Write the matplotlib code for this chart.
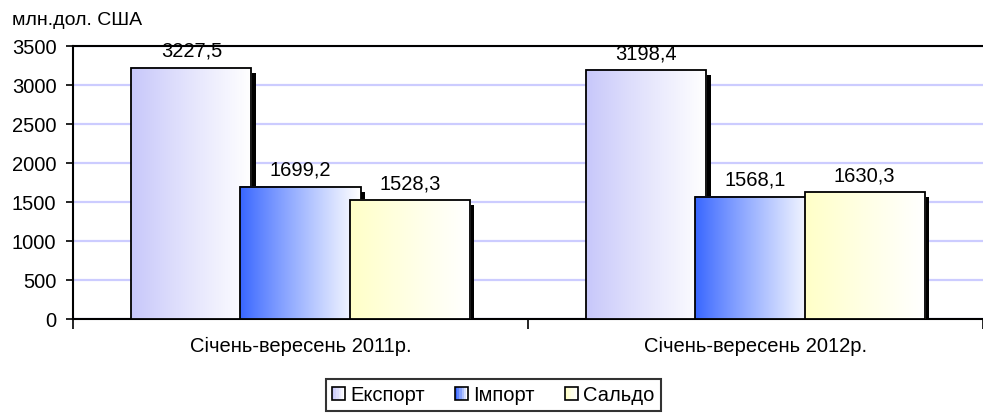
import matplotlib
matplotlib.use("Agg")
import matplotlib.pyplot as plt
import numpy as np
from matplotlib.patches import Rectangle
from matplotlib.transforms import offset_copy
from matplotlib.legend_handler import HandlerBase

plt.rcParams['font.family'] = ['Liberation Sans', 'DejaVu Sans']

# data
periods = ['Січень-вересень 2011р.', 'Січень-вересень 2012р.']
series = ['Експорт', 'Імпорт', 'Сальдо']
export_vals = [3227.5, 3198.4]
import_vals = [1699.2, 1568.1]
saldo_vals = [1528.3, 1630.3]
labels_vals = [['3227,5', '3198,4'], ['1699,2', '1568,1'], ['1528,3', '1630,3']]
yticks = [0, 500, 1000, 1500, 2000, 2500, 3000, 3500]

# left-side colour of each gradient (fades to white on the right)
start_cols = [(0.78, 0.78, 0.98), (0.22, 0.40, 1.0), (1.0, 1.0, 0.78)]

FS = 14.5


def gradient(col, n=64):
    """horizontal gradient from col to white"""
    t = np.linspace(0, 1, n) ** 0.9
    c = np.array(col)
    row = c[None, :] * (1 - t[:, None]) + np.ones(3)[None, :] * t[:, None]
    return row[None, :, :]


class GradHandler(HandlerBase):
    def __init__(self, col):
        super().__init__()
        self.col = col

    def create_artists(self, legend, orig_handle, xdescent, ydescent, width, height, fontsize, trans):
        s = height * 1.0
        x0 = -xdescent + width - s
        y0 = -ydescent
        arts = []
        n = 6
        for i in range(n):
            f = i / (n - 1)
            c = tuple(np.array(self.col) * (1 - f) + f)
            r = Rectangle((x0 + i * s / n, y0), s / n, s, facecolor=c, edgecolor='none', transform=trans)
            arts.append(r)
        arts.append(Rectangle((x0, y0), s, s, facecolor='none', edgecolor='black', lw=1.2, transform=trans))
        return arts


fig = plt.figure(figsize=(9.83, 4.18), dpi=100)
ax = fig.add_axes([0.0743, 0.2368, 0.9257, 0.652])

x = np.arange(len(periods))
step = 0.24
width = 0.264
shadow_tr = offset_copy(ax.transData, fig=fig, x=4.5, y=-5, units='dots')

all_vals = [export_vals, import_vals, saldo_vals]
for k, vals in enumerate(all_vals):
    z = 3 + k
    pos = x + (k - 1) * step
    # shadow
    ax.bar(pos, vals, width=width, color='black', transform=shadow_tr, zorder=z)
    bars = ax.bar(pos, vals, width=width, facecolor='none', edgecolor='black', lw=1.3, zorder=z + 0.2)
    for b, lab in zip(bars, labels_vals[k]):
        bx, by = b.get_x(), b.get_y()
        bw, bh = b.get_width(), b.get_height()
        ax.imshow(gradient(start_cols[k]), extent=[bx, bx + bw, by, by + bh], aspect='auto',
                  interpolation='bilinear', zorder=z + 0.1)
        ax.annotate(lab, (bx + bw / 2, by + bh), xytext=(0, 5), textcoords='offset points',
                    ha='center', va='bottom', fontsize=FS, zorder=10)

ax.set_xlim(-0.5, 1.5)
ax.set_ylim(0, 3500)
ax.set_yticks(yticks)
ax.tick_params(axis='y', labelsize=FS, length=5, width=1.2, direction='out', pad=7)
ax.set_xticks([-0.5, 0.5, 1.5])
ax.set_xticklabels([])
ax.set_xticks(x, minor=True)
ax.set_xticklabels(periods, minor=True)
ax.tick_params(axis='x', which='major', length=7, width=1.2, direction='out')
ax.tick_params(axis='x', which='minor', length=0, labelsize=FS, pad=13)

ax.yaxis.grid(True, color=(0.80, 0.80, 1.0), lw=1.6)
ax.set_axisbelow(True)
for side in ['left', 'bottom', 'top']:
    ax.spines[side].set_linewidth(1.5)
ax.spines['right'].set_visible(False)

fig.text(0.012, 0.952, 'млн.дол. США', fontsize=14, ha='left', va='center')

handles = [Rectangle((0, 0), 1, 1) for _ in series]
leg = fig.legend(handles, series, loc='center', bbox_to_anchor=(0.502, 0.055), ncol=3,
                 handler_map={h: GradHandler(c) for h, c in zip(handles, start_cols)},
                 fontsize=FS, frameon=True, fancybox=False, edgecolor='black',
                 handlelength=0.65, handleheight=0.65, handletextpad=0.25, columnspacing=1.5,
                 borderpad=0.3)
leg.get_frame().set_linewidth(1.5)

fig.savefig('out.png', dpi=100)
